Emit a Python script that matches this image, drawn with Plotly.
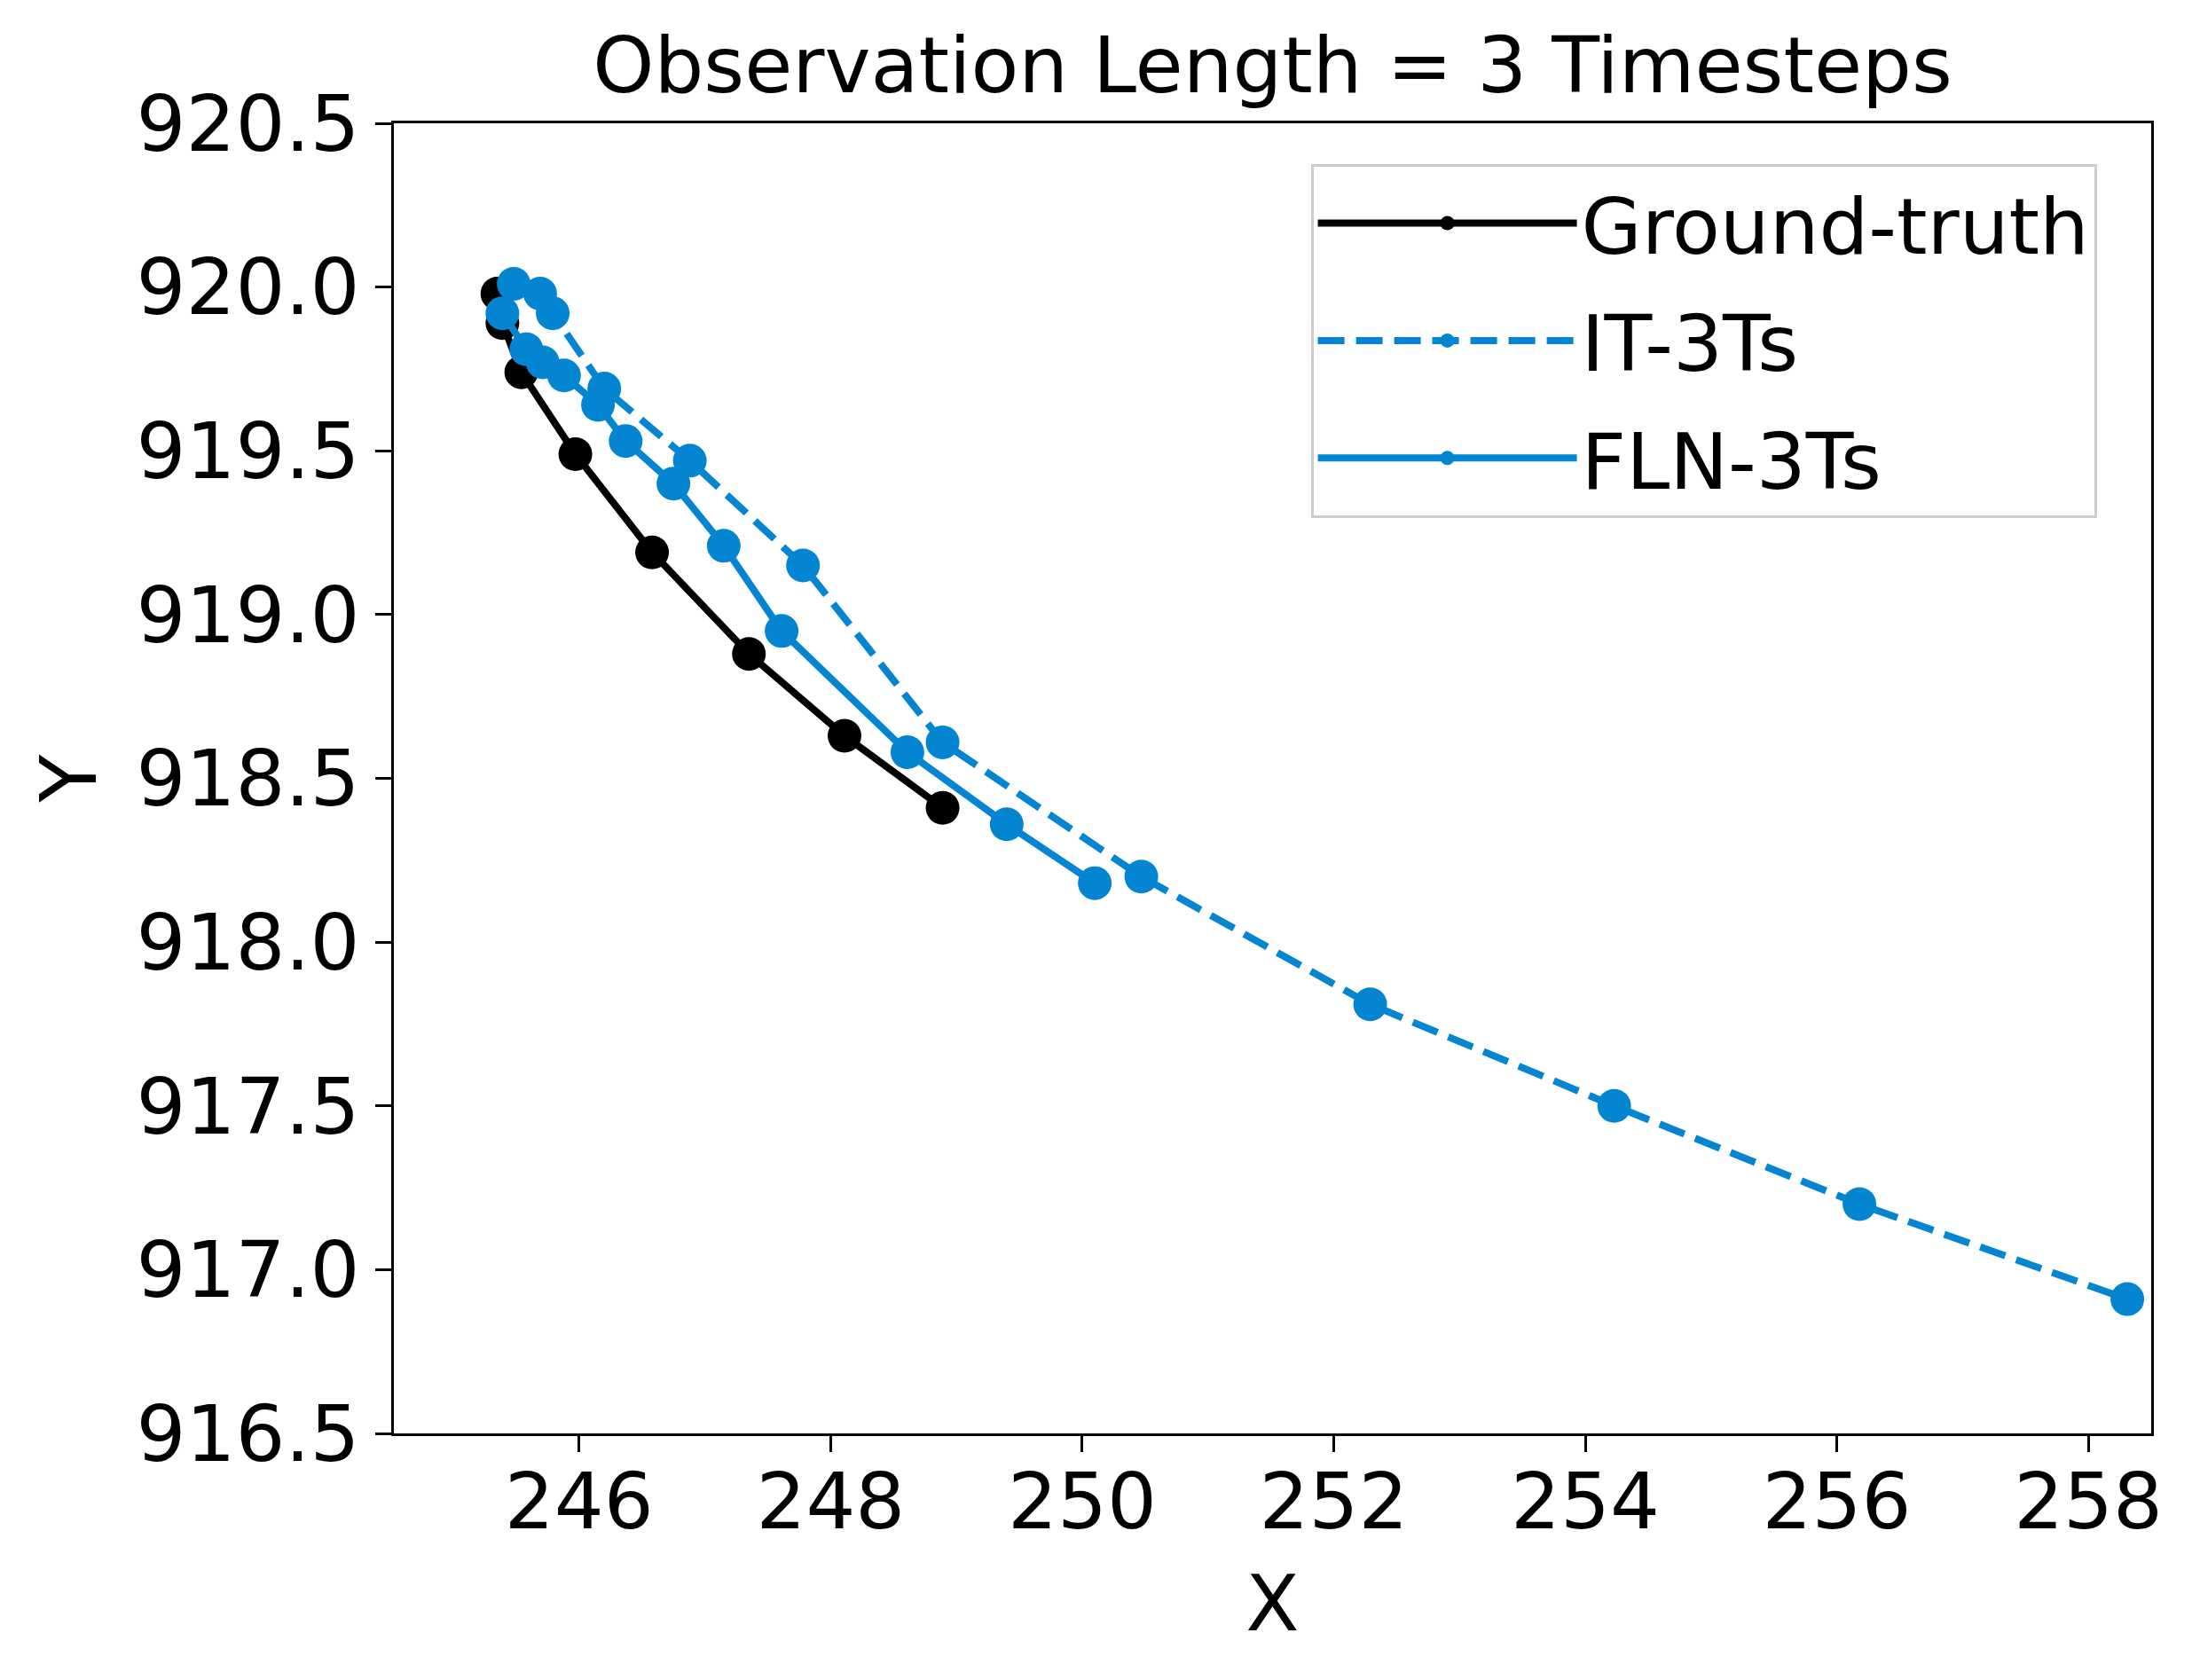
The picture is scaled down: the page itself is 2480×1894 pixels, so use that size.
import plotly.graph_objects as go

# ---- data ----
gt_x = [245.35, 245.39, 245.54, 245.97, 246.58, 247.35, 248.11, 248.89]
gt_y = [919.98, 919.89, 919.74, 919.49, 919.19, 918.88, 918.63, 918.41]

it_x = [245.48, 245.69, 245.79, 246.20, 246.88, 247.78, 248.89, 250.47, 252.29, 254.23, 256.18, 258.31]
it_y = [920.01, 919.98, 919.92, 919.69, 919.47, 919.15, 918.61, 918.20, 917.81, 917.50, 917.20, 916.91]

fln_x = [245.39, 245.58, 245.71, 245.88, 246.15, 246.37, 246.75, 247.15, 247.61, 248.61, 249.40, 250.10]
fln_y = [919.92, 919.81, 919.77, 919.73, 919.64, 919.53, 919.40, 919.21, 918.95, 918.58, 918.36, 918.18]

series_names = ["Ground-truth", "IT-3Ts", "FLN-3Ts"]
x_ticks = [246, 248, 250, 252, 254, 256, 258]
y_ticks = [916.5, 917.0, 917.5, 918.0, 918.5, 919.0, 919.5, 920.0, 920.5]
title_text = "Observation Length = 3 Timesteps"

BLUE = "#0485d1"
FONT = "DejaVu Sans"
FS = 88

fig = go.Figure()
fig.add_trace(go.Scatter(x=gt_x, y=gt_y, mode="lines+markers", name=series_names[0],
                         legendgroup="a",
                         line=dict(color="black", width=8),
                         marker=dict(color="black", size=38)))
fig.add_trace(go.Scatter(x=it_x, y=it_y, mode="lines+markers", name=series_names[1],
                         legendgroup="b",
                         line=dict(color=BLUE, width=8, dash="30px,13px"),
                         marker=dict(color=BLUE, size=38)))
fig.add_trace(go.Scatter(x=fln_x, y=fln_y, mode="lines+markers", name=series_names[2],
                         legendgroup="c",
                         line=dict(color=BLUE, width=8),
                         marker=dict(color=BLUE, size=38)))

axis_common = dict(
    showgrid=False, zeroline=False,
    showline=True, linecolor="black", linewidth=3, mirror=True,
    ticks="outside", ticklen=18, tickwidth=3, tickcolor="black",
    tickfont=dict(family=FONT, size=FS, color="black"),
)

W, H = 2472, 1886  # page body adds an 8px margin

fig.update_layout(
    width=W, height=H,
    margin=dict(l=436, r=55, t=131, b=278),
    paper_bgcolor="white", plot_bgcolor="white",
    font=dict(family=FONT, size=FS, color="black"),
    title=dict(text=title_text, x=0.5, xref="paper", xanchor="center",
               y=1 - 65 / H, yref="container", yanchor="middle",
               font=dict(family=FONT, size=FS, color="black")),
    xaxis=dict(range=[244.527, 258.5], tickvals=x_ticks,
               ticktext=[str(v) for v in x_ticks], ticklabelstandoff=-20,
               title=dict(text="X", font=dict(family=FONT, size=FS), standoff=34),
               **axis_common),
    yaxis=dict(range=[916.5, 920.5], tickvals=y_ticks,
               ticktext=[f"{v:.1f}" for v in y_ticks],
               title=dict(text="Y", font=dict(family=FONT, size=FS), standoff=16),
               **axis_common),
    legend=dict(x=0.969, xanchor="right", y=0.969, yanchor="top",
                bgcolor="rgba(255,255,255,0.8)", bordercolor="#cccccc", borderwidth=3,
                font=dict(family=FONT, size=FS, color="black"),
                tracegroupgap=15, itemwidth=292, traceorder="grouped"),
    showlegend=True,
)

fig.write_html("out.html")
